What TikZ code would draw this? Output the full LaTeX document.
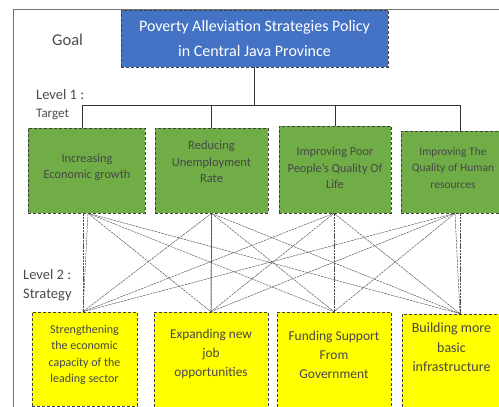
\documentclass[tikz,border=0pt]{standalone}
\usepackage{fontspec}
\setmainfont{Carlito}
\begin{document}
\begin{tikzpicture}[x=1pt,y=-1pt,
  goalbox/.style={draw=black!75, densely dashed, line width=0.6pt, fill={rgb,255:red,68;green,114;blue,196}, text=white, align=center, inner sep=0pt, font=\fontsize{16}{25}\selectfont},
  targetbox/.style={draw=black!75, densely dashed, line width=0.6pt, fill={rgb,255:red,112;green,173;blue,71}, inner sep=0pt},
  stratbox/.style={draw=black!75, densely dashed, line width=0.6pt, fill={rgb,255:red,255;green,255;blue,0}, inner sep=0pt},
  boxtext/.style={align=center, text=black!72, inner sep=0pt},
  sidelabel/.style={text=black!70, anchor=west, inner sep=0pt},
  tree/.style={draw=black!80, line width=0.5pt},
  link/.style={draw=black!70, line width=0.45pt, dash pattern=on 2.5pt off 0.8pt}]
\useasboundingbox (0,0) rectangle (499,407);
\fill[white] (0,0) rectangle (499,407);
% outer frame
\draw[black!55, line width=0.7pt] (13,420) -- (13,9) -- (510,9);

% goal
\node[goalbox, minimum width=267pt, minimum height=57pt] (goal) at (254.5,38.5) {Poverty Alleviation Strategies Policy\\in Central Java Province};
\node[sidelabel, font=\fontsize{16.5}{18}\selectfont] (goallab) at (52,40) {Goal};
\node[sidelabel, font=\fontsize{14.5}{16}\selectfont] (lev1) at (36,95) {Level 1 :};
\node[sidelabel, font=\fontsize{13}{15}\selectfont] (targ) at (36,114) {Target};
\node[sidelabel, font=\fontsize{14.5}{16}\selectfont] (lev2) at (23,275) {Level 2 :};
\node[sidelabel, font=\fontsize{14.5}{16}\selectfont] (strat) at (23,295) {Strategy};

% targets
\node[targetbox, minimum width=117pt, minimum height=85pt] (g1) at (86.5,170.5) {};
\node[targetbox, minimum width=113pt, minimum height=85pt] (g2) at (211.5,170.5) {};
\node[targetbox, minimum width=112pt, minimum height=87pt] (g3) at (335,169.5) {};
\node[targetbox, minimum width=105pt, minimum height=82pt] (g4) at (453.5,172) {};
\node[boxtext, font=\fontsize{12.3}{16.5}\selectfont] (g1t) at (87,167.5) {Increasing\\Economic growth};
\node[boxtext, font=\fontsize{12.5}{16.5}\selectfont] (g2t) at (211.5,162) {Reducing\\Unemployment\\Rate};
\node[boxtext, font=\fontsize{12.3}{16.5}\selectfont] (g3t) at (335,168) {Improving Poor\\People's Quality Of\\Life};
\node[boxtext, font=\fontsize{11.5}{16.5}\selectfont] (g4t) at (453,168) {Improving The\\Quality of Human\\resources};

% strategies
\node[stratbox, minimum width=105pt, minimum height=94pt] (y1) at (84.5,359) {};
\node[stratbox, minimum width=114pt, minimum height=100pt] (y2) at (211,362) {};
\node[stratbox, minimum width=114pt, minimum height=100pt] (y3) at (334,362) {};
\node[stratbox, minimum width=100pt, minimum height=100pt] (y4) at (452,364) {};
\node[boxtext, font=\fontsize{12}{16.5}\selectfont] (y1t) at (84.5,355) {Strengthening\\the economic\\capacity of the\\leading sector};
\node[boxtext, font=\fontsize{13.3}{19}\selectfont] (y2t) at (211,354) {Expanding new\\job\\opportunities};
\node[boxtext, font=\fontsize{13.5}{19}\selectfont] (y3t) at (334,354.5) {Funding Support\\From\\Government};
\node[boxtext, font=\fontsize{14}{19.5}\selectfont] (y4t) at (451.5,347.5) {Building more\\basic\\infrastructure};

% tree from goal to targets
\coordinate (j0) at (goal.south |- 0,105);
\coordinate (j1) at (82,105);
\coordinate (j4) at (460,105);
\draw[tree] (goal.south) -- (j0);
\draw[tree] (j1) -- (j4);
\draw[tree] (j1) -- (j1 |- g1.north);
\draw[tree] (g2.north |- j0) -- (g2.north);
\draw[tree] (g3.north |- j0) -- (g3.north);
\draw[tree] (j4) -- (j4 |- g4.north);

% attach points
\coordinate (a1) at ([xshift=1.5pt]g1.south);
\coordinate (a2) at (g2.south);
\coordinate (a3) at ([xshift=-1pt]g3.south);
\coordinate (a4) at ([xshift=1.5pt]g4.south);
\coordinate (b1) at ([xshift=-1.5pt]y1.north);
\coordinate (b2) at (y2.north);
\coordinate (b3) at (y3.north);
\coordinate (b4) at ([xshift=8pt]y4.north);

% links
\foreach \i in {1,2,3,4}{
  \foreach \j in {1,2,3,4}{
    \draw[link] (a\i) -- (b\j);
  }
}
\draw[link] (g1.south -| 83,0) -- (y1.north -| 83,0);
\draw[tree] (a2) -- (b2);
\draw[link] (g4.south -| 460,0) -- (b4);
\end{tikzpicture}
\end{document}
